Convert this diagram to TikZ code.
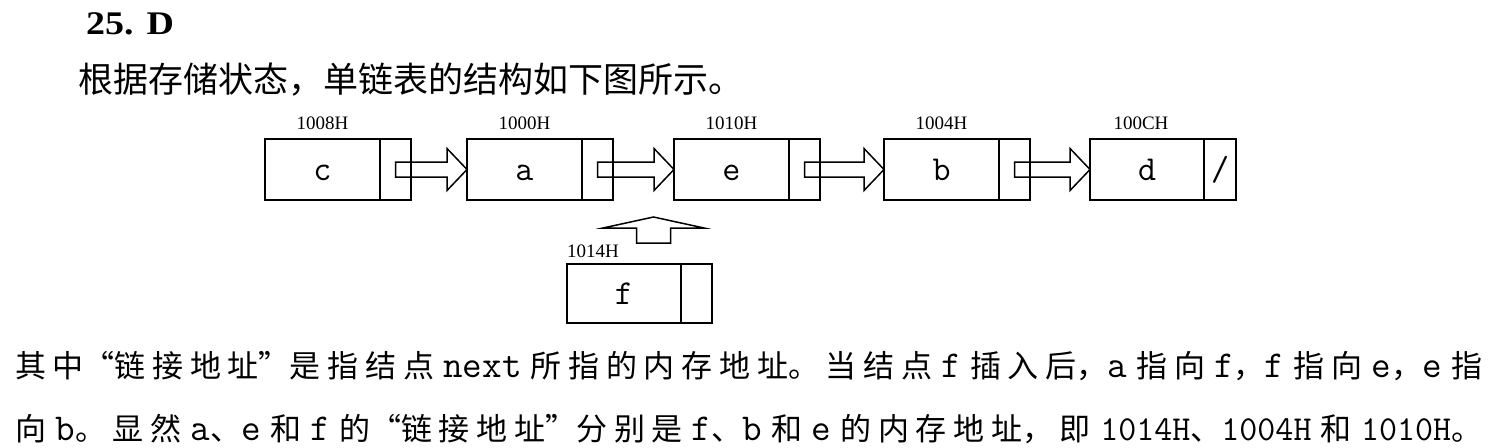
\documentclass[tikz,border=0pt]{standalone}
\usepackage{fontspec}
\usetikzlibrary{calc}
\newfontfamily\cjk{Noto Sans CJK SC}
\newfontfamily\cjkq[RawFeature=+fwid]{Noto Sans CJK SC}
\newfontfamily\mono{Latin Modern Mono}
\newfontfamily\addrfont{Liberation Serif}
\newfontfamily\hdr[FakeStretch=1.15]{Liberation Serif}
\newcommand\ml[1]{{\fontsize{38}{63}\selectfont\mono #1}}
\newcommand\md[1]{{\fontsize{35}{63}\selectfont\mono #1}}
\tikzset{
  box/.style={draw, line width=1.5pt, minimum height=61pt, inner sep=0pt, outer sep=0pt,
    text height=21pt, text depth=0pt, font=\fontsize{35}{35}\selectfont\mono},
  datafield/.style={box, minimum width=115pt, anchor=west},
  ptrfield/.style={box, minimum width=31pt, anchor=west},
  addr/.style={font=\fontsize{19}{19}\selectfont\addrfont, anchor=base, inner sep=0pt},
  hollow/.style={draw, line width=1.5pt, line join=miter},
}
\newcommand\harrow[2]{%
  \draw[hollow] ($(#1.center)+(0,-7.5)$) -- ($(#2.west)+(-20,-7.5)$) -- ($(#2.west)+(-20,-21)$)
    -- (#2.west) -- ($(#2.west)+(-20,21)$) -- ($(#2.west)+(-20,7.5)$)
    -- ($(#1.center)+(0,7.5)$) -- cycle;}
\begin{document}
\begin{tikzpicture}[x=1pt,y=-1pt]
\fill[white] (0,0) rectangle (1512,447);
\useasboundingbox (0,0) rectangle (1512,447);

\node[anchor=base west, inner sep=0pt, font=\hdr\bfseries\fontsize{33}{33}\selectfont] (hd) at (86,34) {25.\hspace{13pt}D};
\node[anchor=base west, inner sep=0pt, font=\cjk\fontsize{35}{35}\selectfont] (t2) at (78,92) {根据存储状态，单链表的结构如下图所示。};

% list nodes
\node[datafield] (c) at (265,169.5) {c};
\node[ptrfield] (cp) at (c.east) {};
\node[datafield] (a) at (467,169.5) {a};
\node[ptrfield] (ap) at (a.east) {};
\node[datafield] (e) at (674,169.5) {e};
\node[ptrfield] (ep) at (e.east) {};
\node[datafield] (b) at (884,169.5) {b};
\node[ptrfield] (bp) at (b.east) {};
\node[datafield, minimum width=114pt] (d) at (1090,169.5) {d};
\node[ptrfield, minimum width=32pt] (dp) at (d.east) {/};

\node[addr] (lc) at ($(c.north)+(0,-10)$) {1008H};
\node[addr] (la) at ($(a.north)+(0,-10)$) {1000H};
\node[addr] (le) at ($(e.north)+(0,-10)$) {1010H};
\node[addr] (lb) at ($(b.north)+(0,-10)$) {1004H};
\node[addr] (ld) at ($(d.north)+(-6,-10)$) {100CH};

\harrow{cp}{a}
\harrow{ap}{e}
\harrow{ep}{b}
\harrow{bp}{d}

% inserted node f
\node[datafield, minimum width=114pt, minimum height=59pt] (f) at (567,293.5) {f};
\node[ptrfield, minimum height=59pt] (fp) at (f.east) {};
\node[addr, anchor=base west] (lf) at ($(f.north west)+(0,-7)$) {1014H};

\coordinate (ftip) at (653.5,217);
\coordinate (ftail) at (653.5,243);
\draw[hollow] ($(ftail)+(-17,0)$) -- ($(ftail)+(-17,-15)$) -- ($(ftail)+(-50.5,-15)$) -- (ftip)
  -- ($(ftail)+(50.5,-15)$) -- ($(ftail)+(17,-15)$) -- ($(ftail)+(17,0)$) -- cycle;

% explanation
\node[anchor=base west, inner sep=0pt] (body) at (15,377) {\parbox[t]{1467pt}{%
\fontsize{31}{63}\selectfont\cjk
\XeTeXlinebreaklocale "zh"\XeTeXlinebreakskip=0pt plus 10pt\relax
\parindent=0pt\parfillskip=0pt\tolerance=10000\hbadness=10000
其中{\cjkq “}链接地址{\cjkq ”}是指结点 \ml{next} 所指的内存地址。当结点 \ml{f} 插入后，\ml{a} 指向 \ml{f}，\ml{f} 指向 \ml{e}，\ml{e} 指\linebreak
向 \ml{b}。显然 \ml{a}、\ml{e} 和 \ml{f} 的{\cjkq “}链接地址{\cjkq ”}分别是 \ml{f}、\ml{b} 和 \ml{e} 的内存地址，即 \md{1014H}、\md{1004H} 和 \md{1010H}。}};
\end{tikzpicture}
\end{document}
